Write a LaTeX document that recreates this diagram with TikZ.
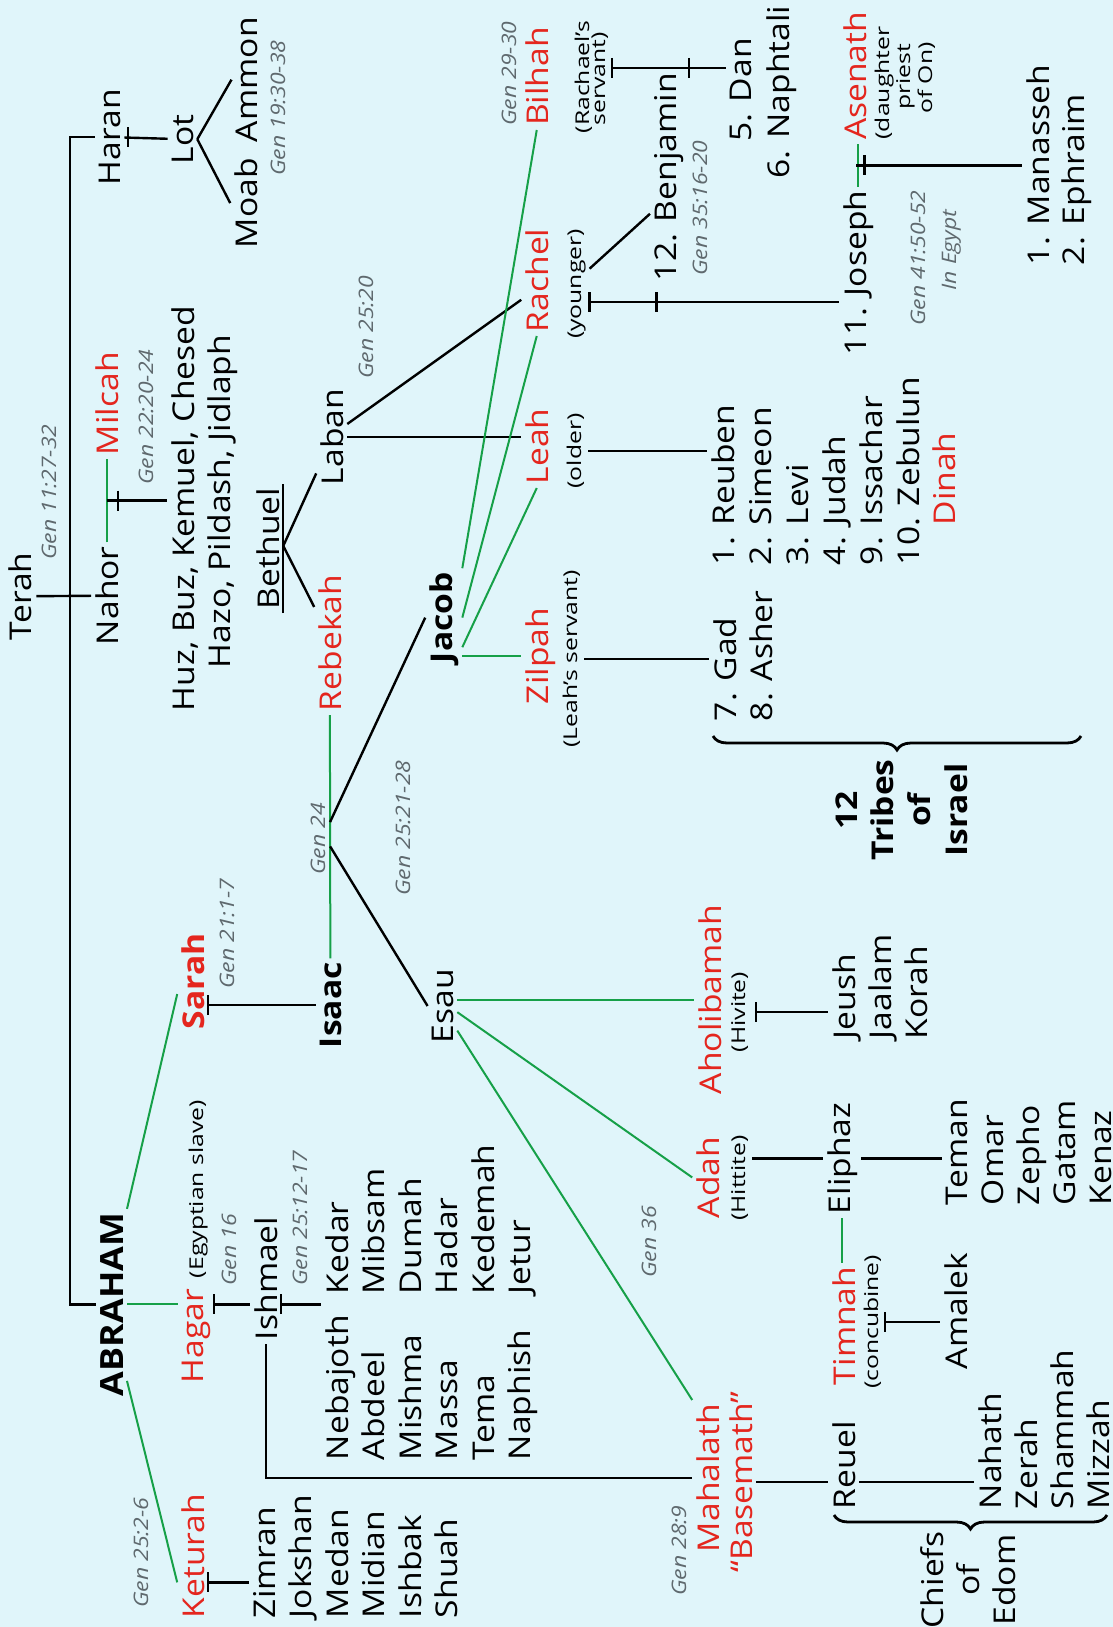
\documentclass[tikz,border=0pt]{standalone}
\usepackage{fontspec}
\setmainfont{Open Sans}[FakeStretch=1.12]
\newfontfamily\notefont{Open Sans}[FakeStretch=1.3]
\newfontfamily\reffont{Open Sans}[FakeStretch=1.15]
\usepackage{tikz}
\usetikzlibrary{calc,decorations.pathreplacing}
\definecolor{sky}{RGB}{224,245,250}
\definecolor{wifered}{RGB}{228,38,30}
\definecolor{wedgreen}{RGB}{22,160,72}
\definecolor{refgray}{RGB}{95,105,110}
\newcommand{\crossbar}[1]{\draw ($(#1)+(0,-10)$) -- ($(#1)+(0,10)$);}

\begin{document}
\begin{tikzpicture}[x=0.5pt,y=-0.5pt,line width=1.2pt,
    nm/.style={rotate=90,inner sep=0pt,outer sep=2pt,anchor=base west,font=\fontsize{15}{18}\selectfont},
    bnm/.style={nm,font=\fontsize{15}{18}\selectfont\bfseries},
    wife/.style={nm,text=wifered},
    bwife/.style={bnm,text=wifered},
    note/.style={rotate=90,inner sep=0pt,outer sep=2pt,anchor=base,font=\notefont\fontsize{9.5}{11}\selectfont},
    gref/.style={rotate=90,inner sep=0pt,anchor=base west,text=refgray,font=\reffont\itshape\fontsize{10}{12}\selectfont},
    wed/.style={draw=wedgreen,line width=1pt},
    curly/.style={decorate,decoration={brace,amplitude=7pt},line width=1.4pt}]
\fill[sky] (0,0) rectangle (1113,1627);
\useasboundingbox (0,0) rectangle (1113,1627);

\node[nm] (terah) at (32,644) {Terah};
\node[gref] (g1) at (56,561) {Gen 11:27-32};
\node[nm] (haran) at (120,189) {Haran};
\node[nm] (nahor) at (118,649) {Nahor};
\node[wife] (milcah) at (118,459) {Milcah};
\node[bnm,font=\fontsize{16}{19}\selectfont\bfseries] (abraham) at (123,1400) {ABRAHAM};
\node[nm] (lot) at (193,168) {Lot};
\node[nm] (moab) at (257,252) {Moab};
\node[nm] (ammon) at (257,146) {Ammon};
\node[gref] (g2) at (285,177) {Gen 19:30-38};
\node[gref] (g3) at (153,486) {Gen 22:20-24};
\node[nm] (huz) at (194,715) {Huz, Buz, Kemuel, Chesed};
\node[nm] (hazo) at (230,672) {Hazo, Pildash, Jidlaph};
\node[nm] (bethuel) at (279,613) {Bethuel};
\node[nm] (laban) at (343,489) {Laban};
\node[gref] (g4) at (373,380) {Gen 25:20};
\node[wife] (rebekah) at (341,715) {Rebekah};
\node[gref] (g5) at (325,876) {Gen 24};
\node[bnm] (isaac) at (341,1052) {Isaac};
\node[gref] (g6) at (410,897) {Gen 25:21-28};
\node[bnm] (jacob) at (452,667) {Jacob};
\node[nm] (esau) at (453,1047) {Esau};
\node[bwife] (sarah) at (204,1033) {Sarah};
\node[gref] (g7) at (234,990) {Gen 21:1-7};
\node[wife] (hagar) at (203,1387) {Hagar};
\node[note,anchor=base west] (egypt) at (203,1282) {(Egyptian slave)};
\node[gref] (g8) at (236,1287) {Gen 16};
\node[nm] (ishmael) at (277,1344) {Ishmael};
\node[gref] (g9) at (307,1287) {Gen 25:12-17};
\foreach \kid [count=\i from 0] in {Nebajoth,Abdeel,Mishma,Massa,Tema,Naphish}
    \node[nm] (ishA\i) at (348+36.5*\i,1464) {\kid};
\foreach \kid [count=\i from 0] in {Kedar,Mibsam,Dumah,Hadar,Kedemah,Jetur}
    \node[nm] (ishB\i) at (348+36.5*\i,1298) {\kid};
\node[wife] (keturah) at (204,1622) {Keturah};
\node[gref] (g10) at (148,1609) {Gen 25:2-6};
\foreach \kid [count=\i from 0] in {Zimran,Jokshan,Medan,Midian,Ishbak,Shuah}
    \node[nm] (ketK\i) at (275+36.5*\i,1622) {\kid};

\node[wife] (zilpah) at (548,708) {Zilpah};
\node[note] (lserv) at (577,659) {(Leah’s servant)};
\node[wife] (leah) at (548,488) {Leah};
\node[note] (older) at (581,451) {(older)};
\node[wife] (rachel) at (548,336) {Rachel};
\node[note] (younger) at (581,284) {(younger)};
\node[wife] (bilhah) at (548,130) {Bilhah};
\node[note] (rserv1) at (589,77) {(Rachael’s};
\node[note] (rserv2) at (605,79) {servant)};
\node[gref] (g11) at (516,127) {Gen 29-30};
\foreach \kid [count=\i from 0] in {1. Reuben,2. Simeon,3. Levi,4. Judah,9. Issachar,10. Zebulun}
    \node[nm] (leahK\i) at (734+37*\i,569) {\kid};
\node[wife,anchor=base] (dinah) at (955,479) {Dinah};
\node[nm] (gad) at (736,725) {7. Gad};
\node[nm] (asher) at (772,725) {8. Asher};
\node[nm] (benjamin) at (676,285) {12. Benjamin};
\node[gref] (g12) at (707,277) {Gen 35:16-20};
\node[nm] (joseph) at (866,359) {11. Joseph};
\node[wife] (asenath) at (866,144) {Asenath};
\node[note] (dau1) at (889,83) {(daughter};
\node[note] (dau2) at (910,77) {priest};
\node[note] (dau3) at (932,78) {of On)};
\node[gref] (g13) at (925,327) {Gen 41:50-52};
\node[gref,anchor=base] (inegypt) at (956,250) {In Egypt};
\node[nm] (manasseh) at (1049,269) {1. Manasseh};
\node[nm] (ephraim) at (1084,269) {2. Ephraim};
\node[nm,anchor=base] (dan) at (751,90) {5. Dan};
\node[nm,anchor=base] (naphtali) at (789,92) {6. Naphtali};
\foreach \w [count=\i from 0] in {12,Tribes,of,Israel}
    \node[bnm,anchor=base] (tribe\i) at (857+36.7*\i,810) {\w};

\node[wife] (aholibamah) at (721,1098) {Aholibamah};
\node[note] (hivite) at (745,1012) {(Hivite)};
\foreach \kid [count=\i from 0] in {Jeush,Jaalam,Korah}
    \node[nm] (ahoK\i) at (855+36*\i,1043) {\kid};
\node[wife] (adah) at (719,1222) {Adah};
\node[note] (hittite) at (745,1178) {(Hittite)};
\node[gref] (g14) at (656,1279) {Gen 36};
\node[nm] (eliphaz) at (850,1218) {Eliphaz};
\foreach \kid [count=\i from 0] in {Teman,Omar,Zepho,Gatam,Kenaz}
    \node[nm] (eliK\i) at (967+36*\i,1209) {\kid};
\node[wife] (timnah) at (855,1389) {Timnah};
\node[note] (concubine) at (878,1322) {(concubine)};
\node[nm] (amalek) at (967,1373) {Amalek};
\node[wife] (mahalath) at (719,1556) {Mahalath};
\node[wife,anchor=base] (basemath) at (752,1482) {“Basemath”};
\node[gref] (g15) at (686,1597) {Gen 28:9};
\node[nm] (reuel) at (855,1513) {Reuel};
\foreach \kid [count=\i from 0] in {Nahath,Zerah,Shammah,Mizzah}
    \node[nm] (reuK\i) at (1001+36.3*\i,1513) {\kid};
\foreach \w [count=\i from 0] in {Chiefs,of,Edom}
    \node[nm,anchor=base] (edom\i) at (943+36*\i,1580) {\w};

\coordinate (bar) at (70,0);
\draw (terah) -- (nahor);
\draw (haran) -- (haran -| bar) -- (abraham -| bar) -- (abraham);
\draw (haran) -- (lot);
\draw ($(haran.south)+(4,-10)$) -- ++(0,20);
\draw (lot.south) -- (ammon.north);
\draw (lot.south) -- (moab.north);
\draw[wed] (nahor) -- (milcah);
\draw ($(nahor.east)!0.5!(milcah.west)$) coordinate (nmj) -- (nmj -| huz.north);
\draw ($(nmj)+(11,-10)$) -- ++(0,20);
\draw (bethuel.south west) -- (bethuel.south east);
\coordinate (bj) at ($(bethuel.south west)!0.52!(bethuel.south east)$);
\draw (bj) -- ($(laban.north west)!0.3!(laban.north)$);
\draw (bj) -- ($(rebekah.north east)!0.5!(rebekah.north)$);
\draw ($(laban.south)!0.25!(laban.south east)$) -- ($(rachel.north)!0.35!(rachel.north west)$);
\draw (laban.south) -- (laban.south -| leah.north);

\draw[wed] (abraham.south east) -- ($(sarah.north)!0.25!(sarah.north west)$);
\draw[wed] (abraham.south) -- (abraham.south -| hagar.north);
\draw[wed] ($(abraham.south)!0.8!(abraham.south west)$) -- ($(keturah.north)!0.4!(keturah.north west)$);
\draw (sarah.south |- isaac) coordinate (sk) -- (isaac);
\crossbar{sk}
\draw (abraham.south -| hagar.south) coordinate (hk) -- (hk -| ishmael.north);
\crossbar{hk}
\draw (abraham.south -| ishmael.south) coordinate (ik) -- (ik -| ishA0.north);
\crossbar{ik}
\draw ($(keturah.south)!0.4!(keturah.south west)$) coordinate (kk) -- (kk -| ketK0.north);
\crossbar{kk}
\draw (ishmael.west) |- (mahalath);

\draw[wed] (rebekah) -- (isaac);
\draw ($(rebekah.west)!0.44!(isaac.east)$) -- (jacob.north);
\draw ($(rebekah.west)!0.54!(isaac.east)$) -- (esau.north);

\draw[wed] (jacob.south east) -- (bilhah.west);
\draw[wed] (jacob.south) -- (rachel.west);
\draw[wed] ($(jacob.south)!0.6!(jacob.south west)$) -- (leah.west);
\draw[wed] (zilpah.north -| jacob.south) -- (zilpah.north);
\draw (lserv.south) coordinate (zk) -- (zk -| gad.north);
\draw (older.south) coordinate (lk) -- (lk -| leahK0.north);
\draw ($(younger.south)+(0,18)$) coordinate (rk) -- (rk -| joseph.north);
\crossbar{rk}
\draw ($(rk)+(67,-10)$) -- ++(0,20);
\draw ($(younger.south)!0.26!(younger.south east)$) -- ($(benjamin.north west)!0.33!(benjamin.north east)$);
\draw ($(rserv2.south)+(0,-11)$) coordinate (bk) -- (bk -| dan.north);
\crossbar{bk}
\draw ($(bk)+(77,-10)$) -- ++(0,20);
\draw[wed] (joseph.east) -- (joseph.east |- asenath.west);
\draw ($(joseph.east)!0.5!(asenath.west)$) coordinate (jk) -- (jk -| manasseh.north);
\draw ($(jk)+(8,-10)$) -- ++(0,20);

\draw[wed] (aholibamah.north -| esau.south) -- (aholibamah.north);
\draw[wed] ($(esau.south)!0.15!(esau.south west)$) -- (adah.north);
\draw[wed] ($(esau.south)!0.6!(esau.south west)$) -- (mahalath.north east);
\draw ($(hivite.south)+(4,0)$) coordinate (hvk) -- (hvk -| ahoK0.north);
\crossbar{hvk}
\draw (hittite.south |- eliphaz) coordinate (adk) -- (eliphaz);
\draw (eliphaz) -- (eliphaz -| eliK0.north);
\draw[wed] (eliphaz.west) -- (eliphaz.west |- timnah.east);
\draw (concubine.south) coordinate (tk) -- (tk -| amalek.north);
\crossbar{tk}
\draw (basemath.south) coordinate (mk) -- (mk -| reuel.north);
\draw (reuel.south |- mk) -- (mk -| reuK0.north);

\coordinate (tribesA) at (1081,736);
\coordinate (tribesB) at (713,736);
\draw[curly] (tribesA) -- (tribesB);
\coordinate (chiefsA) at (1107,1515);
\coordinate (chiefsB) at (834,1515);
\draw[curly] (chiefsA) -- (chiefsB);
\end{tikzpicture}
\end{document}
